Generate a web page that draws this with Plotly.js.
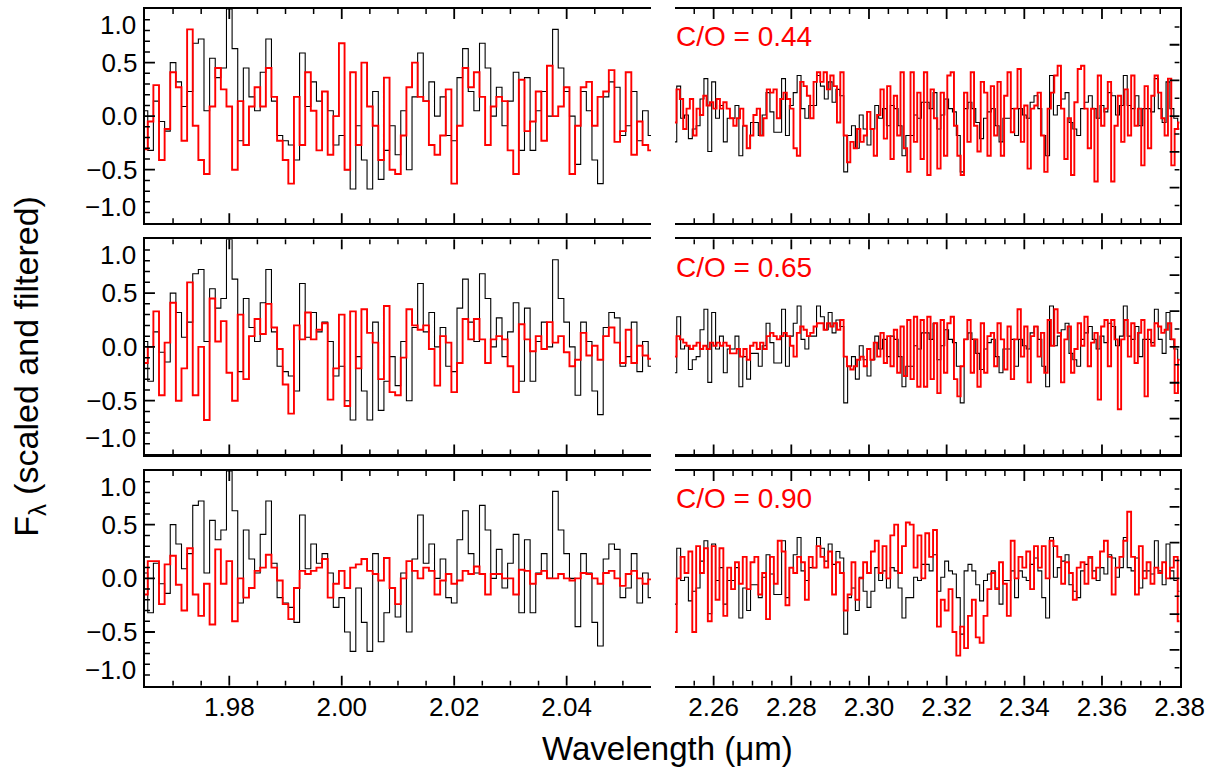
<!DOCTYPE html>
<html>
<head>
<meta charset="utf-8">
<script src="https://cdn.plot.ly/plotly-3.0.1.min.js"></script>
<style>html,body{margin:0;padding:0;background:#fff;}#chart{width:1215px;height:772px;}</style>
</head>
<body>
<div id="chart"></div>
<script>
// ---- data ----
const leftRange = [1.965, 2.055];
const rightRange = [2.25, 2.38];
const yRange = [-1, 1];
const coLabels = ["C/O = 0.44", "C/O = 0.65", "C/O = 0.90"];
const yTickVals = [-0.5, 0, 0.5];
const yTickText = ["\u22120.5", "0.0", "0.5"];
const yEdgeLabels = ["1.0", "\u22121.0"];

const blackLeft = [0.05,-0.32,0.14,-0.05,-0.14,0.5,0.32,0.09,0.23,0.68,
0.72,0.05,0.54,0.36,0.45,1.0,0.63,-0.23,0.45,0.18,
0.05,0.41,0.72,0.14,-0.18,-0.23,-0.27,-0.41,0.59,0.09,
0.32,0.14,0.23,0.05,-0.27,-0.18,-0.5,-0.68,-0.09,-0.41,
-0.68,0.23,-0.59,-0.32,-0.09,-0.36,0.05,-0.5,0.18,0.59,
0.14,0.32,0.0,0.18,-0.18,-0.23,0.36,0.63,0.23,0.05,
0.68,0.45,0.0,0.27,-0.09,0.14,0.41,-0.32,0.36,-0.32,
0.05,0.23,0.0,0.81,0.45,0.23,0.0,-0.45,0.23,0.05,
-0.41,-0.63,0.18,0.32,0.27,-0.18,-0.09,0.23,-0.23,0.05,
-0.18];
const blackRight = [-0.24,0.28,-0.02,0.01,-0.21,-0.12,-0.09,0.16,0.35,-0.33,
0.32,-0.02,0.1,-0.24,-0.02,-0.02,0.1,-0.37,-0.09,-0.3,
-0.06,-0.06,-0.18,0.01,0.22,0.04,-0.15,-0.15,0.35,-0.18,
0.1,0.22,0.38,0.07,-0.02,0.1,0.1,0.38,0.28,0.16,
0.32,0.13,0.25,0.19,-0.52,-0.18,-0.09,-0.3,0.01,-0.12,
-0.27,-0.12,0.1,-0.02,0.07,-0.09,0.1,0.07,-0.09,-0.37,
-0.18,-0.18,0.01,-0.02,0.13,0.13,0.07,0.22,-0.12,0.01,
0.16,0.07,0.04,-0.18,-0.52,0.07,0.13,0.07,-0.06,-0.21,
-0.02,0.04,0.07,-0.09,-0.24,-0.02,-0.02,0.07,-0.18,0.07,
0.01,-0.02,0.13,0.19,0.07,-0.18,-0.37,0.38,0.01,0.1,
0.16,0.22,-0.06,-0.12,-0.18,0.07,0.13,0.19,0.07,-0.02,
0.1,0.04,0.22,0.19,0.01,0.1,0.38,0.1,0.07,0.19,
-0.09,0.07,0.07,0.04,0.35,0.07,-0.06,0.32,0.07,-0.02,
-0.12];
const redLeft044 = [-0.31,-0.05,0.29,-0.41,-0.12,0.41,0.27,-0.23,0.81,-0.09,
-0.41,-0.54,0.09,0.45,0.25,0.09,-0.5,0.14,-0.27,0.09,
0.27,0.09,0.45,0.18,-0.23,-0.41,-0.63,0.18,-0.27,0.41,
0.05,-0.32,0.23,-0.36,0.0,0.68,-0.5,0.41,-0.27,0.5,
0.09,-0.09,-0.41,0.36,-0.5,-0.54,-0.18,0.27,0.5,0.18,
0.14,-0.27,-0.36,-0.18,0.25,-0.63,-0.09,0.45,0.27,0.41,
0.18,-0.27,0.09,0.18,0.14,-0.32,-0.54,0.34,-0.14,-0.05,
0.23,-0.23,0.47,0.0,0.09,0.27,-0.54,-0.09,0.27,0.32,
-0.09,0.18,0.23,0.43,-0.24,-0.14,0.41,-0.36,-0.05,-0.27,
-0.32];
const redLeft065 = [-0.15,0.0,0.33,-0.45,0.04,0.41,-0.5,-0.2,0.6,-0.45,
0.0,-0.68,0.45,0.05,0.24,-0.24,-0.5,0.3,-0.3,0.1,
0.26,0.12,0.4,0.18,-0.02,-0.35,-0.62,0.2,0.07,0.32,
0.07,0.16,0.22,-0.49,-0.2,0.3,-0.55,0.33,-0.2,0.35,
0.13,0.04,-0.3,0.38,-0.42,-0.45,-0.1,0.35,0.2,0.16,
0.2,-0.02,-0.36,0.1,0.04,-0.42,-0.15,0.26,0.07,0.26,
0.07,-0.15,0.07,0.1,0.07,-0.18,-0.42,0.21,0.07,-0.04,
0.1,-0.02,0.23,0.04,0.1,-0.05,-0.18,-0.12,0.13,-0.08,
0.01,-0.12,0.1,0.18,0.04,-0.15,0.16,-0.15,0.01,-0.08,
-0.11];
const redLeft090 = [-0.15,0.16,0.16,-0.24,0.13,0.21,-0.06,-0.3,0.28,-0.15,
-0.35,-0.05,-0.43,0.27,-0.05,0.16,-0.4,0.0,-0.18,-0.09,
0.07,0.1,0.22,0.1,-0.02,-0.24,-0.38,-0.09,0.07,0.04,
0.07,0.1,0.18,-0.18,-0.05,0.07,-0.09,0.1,0.13,0.18,
0.07,0.04,-0.02,0.19,-0.09,-0.24,0.0,0.16,0.07,0.0,
0.1,0.07,-0.15,-0.02,0.04,-0.05,-0.02,0.07,0.04,0.11,
0.04,-0.15,0.04,0.04,0.0,0.0,-0.15,0.08,0.07,-0.05,
0.04,0.07,0.0,0.0,0.04,0.0,-0.02,0.0,0.05,0.04,
0.0,-0.05,0.05,0.07,0.0,-0.07,0.04,0.07,0.0,-0.05,
-0.01];
const redRight044 = [-0.06,0.25,0.16,-0.12,0.07,0.16,-0.18,0.07,0.01,0.19,
0.1,0.13,0.07,0.16,0.07,0.13,0.07,-0.02,-0.09,-0.02,
0.07,-0.09,-0.3,-0.18,0.01,0.07,-0.18,-0.02,0.25,0.22,
0.25,-0.02,0.16,0.22,0.16,0.07,-0.3,-0.37,0.32,0.28,
0.19,-0.02,0.32,0.41,0.32,0.41,0.25,0.38,0.28,-0.06,
0.41,-0.18,-0.43,-0.24,-0.3,-0.12,-0.24,-0.18,0.04,-0.12,
-0.37,0.01,0.25,-0.21,0.28,-0.4,0.19,-0.18,0.41,-0.3,
-0.52,0.41,-0.24,0.22,-0.4,0.41,-0.55,0.25,-0.02,-0.49,
0.22,-0.37,0.38,0.41,-0.09,-0.37,-0.55,0.22,-0.24,0.41,
-0.09,-0.33,0.32,0.22,-0.37,0.28,-0.18,0.32,-0.37,0.19,
0.41,-0.15,0.07,0.44,-0.24,0.1,-0.49,0.07,0.1,0.22,
-0.18,-0.52,0.07,0.22,0.38,0.47,0.07,-0.4,-0.02,-0.55,
0.13,0.44,0.47,0.07,-0.3,0.07,-0.61,0.38,-0.09,0.07,
0.32,-0.61,-0.09,0.19,-0.24,0.25,-0.18,0.38,-0.09,0.07,
-0.46,0.28,-0.3,0.19,0.38,0.22,-0.02,-0.18,0.35,-0.46,
-0.12,-0.06];
const redRight065 = [-0.09,0.1,0.07,0.04,0.01,-0.02,0.01,0.04,-0.02,0.01,
-0.02,0.04,0.01,0.04,0.01,0.04,0.01,-0.06,-0.06,-0.02,
-0.09,-0.02,-0.12,0.01,0.04,-0.02,0.04,-0.02,0.1,0.13,
0.1,0.07,0.1,0.13,0.1,0.01,-0.09,0.13,0.19,0.16,
0.1,0.13,0.19,0.22,0.22,0.16,0.22,0.19,0.22,0.16,
0.25,-0.09,-0.18,-0.21,-0.18,-0.12,-0.09,-0.18,-0.02,-0.12,
0.04,-0.09,0.13,-0.15,0.1,-0.18,0.16,-0.24,0.19,-0.27,
0.25,-0.3,0.28,-0.37,0.25,-0.37,0.28,-0.3,0.22,-0.43,
0.25,-0.24,0.22,0.28,-0.3,-0.46,-0.18,0.07,0.25,-0.24,
0.07,-0.37,0.22,-0.24,0.1,0.13,-0.18,0.22,0.07,-0.21,
0.19,-0.3,0.07,0.35,-0.09,0.19,-0.33,0.1,0.19,-0.09,
0.13,-0.24,0.25,0.01,0.35,0.13,-0.33,0.07,0.19,-0.24,
-0.02,0.22,0.01,0.28,-0.18,0.04,0.13,-0.49,0.19,0.25,
-0.18,0.25,0.07,-0.58,0.07,0.25,-0.09,0.22,-0.15,0.13,
0.25,-0.46,0.16,0.01,0.22,0.19,0.13,0.16,0.22,0.07,
-0.43,-0.12];
const redRight090 = [-0.5,0.0,0.2,0.05,0.25,-0.5,0.3,0.05,0.28,-0.4,
0.3,-0.2,0.28,-0.35,0.1,-0.1,0.15,-0.05,0.2,-0.1,
0.15,0.2,-0.15,0.05,-0.38,0.2,-0.05,0.35,0.25,-0.25,
0.1,0.05,0.2,0.15,-0.2,0.2,0.1,0.3,0.2,0.1,
0.25,-0.15,0.15,0.05,-0.3,-0.15,0.15,-0.2,0.0,0.15,
0.05,0.25,0.35,0.05,0.3,0.0,0.4,0.5,0.05,0.3,
0.52,0.5,0.1,0.4,0.0,0.42,0.2,0.45,-0.45,-0.2,
-0.3,-0.1,-0.5,-0.72,-0.45,-0.65,-0.35,-0.2,-0.55,-0.6,
-0.35,-0.1,0.05,-0.1,0.15,-0.05,-0.35,0.35,0.0,0.2,
0.1,0.25,-0.1,0.3,0.1,0.3,0.0,0.35,0.3,0.2,
-0.05,0.15,0.05,-0.2,0.1,0.15,-0.05,0.2,0.0,0.1,
0.25,0.35,0.2,-0.15,0.1,0.2,0.35,0.62,0.2,-0.15,
0.3,0.0,0.15,-0.05,0.1,0.05,0.15,0.0,0.1,0.2,
-0.4];

const redLeft = [redLeft044, redLeft065, redLeft090];
const redRight = [redRight044, redRight065, redRight090];

// tick layout (major / minor steps)
const xMajorStep = 0.02, xMinorStep = 0.005;
const yLeftMajorStep = 0.5, yLeftMinorStep = 0.1;
const yRightMajorStep = 1 / 3, yRightMinorStep = 1 / 6;

const FONT = "Liberation Sans, Arial, Helvetica, sans-serif";
const RED = "rgb(255,0,0)";
const W = 1215, H = 772;
const MAJ = 10, MIN = 5;
function grid(range, n) {
  const out = [];
  for (let k = 0; k < n; k++) out.push(range[0] + (range[1] - range[0]) * k / (n - 1));
  return out;
}
function stepsInside(range, step) {
  const out = [];
  const k0 = Math.ceil(range[0] / step - 1e-6), k1 = Math.floor(range[1] / step + 1e-6);
  for (let k = k0; k <= k1; k++) {
    const v = k * step;
    if (v > range[0] + 1e-9 && v < range[1] - 1e-9) out.push(v);
  }
  return out;
}
function isMultiple(v, step) { const q = v / step; return Math.abs(q - Math.round(q)) < 1e-6; }

const xDomL = [0.1193, 0.5358], xDomR = [0.5554, 0.9709];
const yDoms = [[0.7108, 0.9883], [0.4113, 0.6900], [0.1118, 0.3899]];

const traces = [];
const tickTraces = [];
const layout = {
  width: W, height: H,
  margin: {l: 0, r: 0, t: 0, b: 0},
  paper_bgcolor: "white", plot_bgcolor: "white",
  showlegend: false,
  font: {family: FONT, color: "black"},
  annotations: []
};

// tick marks drawn as line segments through the axes' own scales
function addTicks(xs, ys, xRange, xDom, yDom, yMinor, yMajor, rightSide) {
  const pxPerX = (xDom[1] - xDom[0]) * W / (xRange[1] - xRange[0]);
  const pxPerY = (yDom[1] - yDom[0]) * H / (yRange[1] - yRange[0]);
  const seg = {maj: {x: [], y: []}, min: {x: [], y: []}};
  for (const v of stepsInside(xRange, xMinorStep)) {
    const s = isMultiple(v, xMajorStep) ? seg.maj : seg.min;
    const d = (s === seg.maj ? MAJ : MIN) / pxPerY;
    s.x.push(v, v, null, v, v, null);
    s.y.push(yRange[0], yRange[0] + d, null, yRange[1], yRange[1] - d, null);
  }
  const edge = rightSide ? xRange[1] : xRange[0];
  const dir = rightSide ? -1 : 1;
  for (const v of stepsInside(yRange, yMinor)) {
    const s = isMultiple(v, yMajor) ? seg.maj : seg.min;
    const d = (s === seg.maj ? MAJ : MIN) / pxPerX;
    s.x.push(edge, edge + dir * d, null);
    s.y.push(v, v, null);
  }
  tickTraces.push({x: seg.maj.x, y: seg.maj.y, xaxis: "x" + xs, yaxis: "y" + ys, mode: "lines", line: {color: "black", width: 1.8}, hoverinfo: "skip", connectgaps: false});
  tickTraces.push({x: seg.min.x, y: seg.min.y, xaxis: "x" + xs, yaxis: "y" + ys, mode: "lines", line: {color: "black", width: 1.5}, hoverinfo: "skip", connectgaps: false});
}

function xAxis(domain, range, anchor, labels) {
  return {
    domain: domain, range: range, anchor: anchor,
    showline: true, linewidth: 2.2, linecolor: "black", mirror: true,
    ticks: "", tickmode: "linear", tick0: 2.0, dtick: xMajorStep, tickformat: ".2f",
    showticklabels: labels, ticklabelstandoff: -3,
    tickfont: {family: FONT, size: 26, color: "black"},
    showgrid: false, zeroline: false
  };
}

for (let r = 0; r < 3; r++) {
  const iL = 2 * r + 1, iR = 2 * r + 2;
  const sL = iL === 1 ? "" : String(iL), sR = String(iR);
  const bottom = r === 2;
  layout["xaxis" + sL] = xAxis(xDomL, leftRange, "y" + sL, bottom);
  layout["xaxis" + sR] = xAxis(xDomR, rightRange, "y" + sR, bottom);
  layout["yaxis" + sL] = {
    domain: yDoms[r], range: yRange, anchor: "x" + sL,
    showline: true, linewidth: 2.2, linecolor: "black",
    ticks: "", tickmode: "array", tickvals: yTickVals, ticktext: yTickText,
    tickfont: {family: FONT, size: 26, color: "black"},
    showgrid: false, zeroline: false
  };
  layout["yaxis" + sR] = {
    domain: yDoms[r], range: yRange, anchor: "x" + sR, side: "right",
    showline: true, linewidth: 2.2, linecolor: "black",
    ticks: "", showticklabels: false,
    showgrid: false, zeroline: false
  };
  addTicks(sL, sL, leftRange, xDomL, yDoms[r], yLeftMinorStep, yLeftMajorStep, false);
  addTicks(sR, sR, rightRange, xDomR, yDoms[r], yRightMinorStep, yRightMajorStep, true);

  const blackStyle = {color: "black", width: 1.1, shape: "hvh"};
  const redStyle = {color: RED, width: 1.9, shape: "hvh"};
  traces.push({x: grid(leftRange, blackLeft.length), y: blackLeft, xaxis: "x" + sL, yaxis: "y" + sL, mode: "lines", line: blackStyle, hoverinfo: "skip"});
  traces.push({x: grid(rightRange, blackRight.length), y: blackRight, xaxis: "x" + sR, yaxis: "y" + sR, mode: "lines", line: blackStyle, hoverinfo: "skip"});
  traces.push({x: grid(leftRange, redLeft[r].length), y: redLeft[r], xaxis: "x" + sL, yaxis: "y" + sL, mode: "lines", line: redStyle, hoverinfo: "skip"});
  traces.push({x: grid(rightRange, redRight[r].length), y: redRight[r], xaxis: "x" + sR, yaxis: "y" + sR, mode: "lines", line: redStyle, hoverinfo: "skip"});

  layout.annotations.push({
    text: coLabels[r], xref: "x" + sR + " domain", yref: "y" + sR + " domain",
    x: -0.002, y: 0.87, xanchor: "left", yanchor: "middle", showarrow: false,
    font: {family: FONT, size: 28, color: RED}
  });
  layout.annotations.push({
    text: yEdgeLabels[0], xref: "paper", yref: "y" + sL, x: 0.1125, y: 1, xanchor: "right", yanchor: "top",
    showarrow: false, borderpad: 0, font: {family: FONT, size: 26, color: "black"}
  });
  layout.annotations.push({
    text: yEdgeLabels[1], xref: "paper", yref: "y" + sL, x: 0.1125, y: -1, xanchor: "right", yanchor: "bottom",
    showarrow: false, borderpad: 0, font: {family: FONT, size: 26, color: "black"}
  });
}

layout.annotations.push({
  text: "Wavelength (\u03bcm)", xref: "paper", yref: "paper", x: 0.549, y: 0.031,
  xanchor: "center", yanchor: "middle", showarrow: false,
  font: {family: FONT, size: 33, color: "black"}
});
layout.annotations.push({
  text: "F<sub>\u03bb</sub> (scaled and filtered)", xref: "paper", yref: "paper", x: 0.024, y: 0.525,
  xanchor: "center", yanchor: "middle", textangle: -90, showarrow: false,
  font: {family: FONT, size: 34, color: "black"}
});

Plotly.newPlot("chart", traces.concat(tickTraces), layout, {displayModeBar: false, staticPlot: true});
</script>
</body>
</html>
